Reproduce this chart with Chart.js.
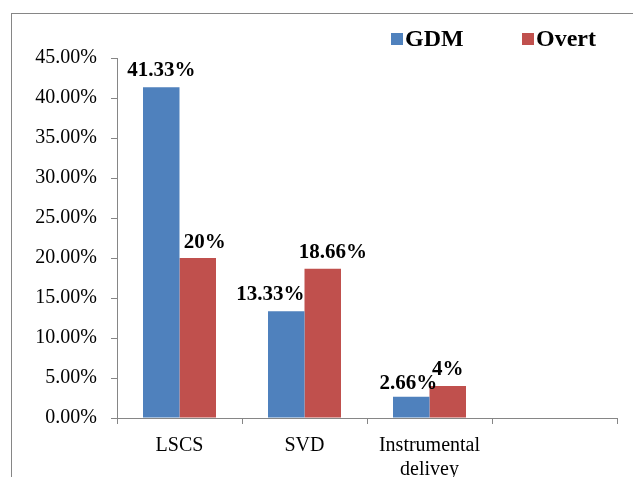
<!DOCTYPE html>
<html>
<head>
<meta charset="utf-8">
<script src="https://cdn.jsdelivr.net/npm/chart.js@4/dist/chart.umd.min.js"></script>
<style>
  html, body { margin: 0; padding: 0; background: #ffffff; }
  #wrap { width: 633px; height: 477px; position: relative; }
</style>
</head>
<body>
<div id="wrap"><canvas id="chart" width="633" height="477"></canvas></div>
<script>
// Mode of delivery by group (percent of cases)
const categories = ['LSCS', 'SVD', ['Instrumental', 'delivey'], ''];
const seriesNames = ['GDM', 'Overt'];
const gdmValues = [41.33, 13.33, 2.66, null];
const overtValues = [20, 18.66, 4, null];
const yTickValues = [0, 5, 10, 15, 20, 25, 30, 35, 40, 45];

const BLUE = '#4F81BD';
const RED = '#C0504D';
const AXIS = '#868686';
const SERIF = '"Liberation Serif", "Times New Roman", serif';

// Frame, value labels and legend
const decorations = {
  id: 'decorations',
  beforeDraw(chart) {
    const ctx = chart.ctx;
    ctx.save();
    ctx.fillStyle = '#ffffff';
    ctx.fillRect(0, 0, chart.width, chart.height);
    ctx.strokeStyle = AXIS;
    ctx.lineWidth = 1;
    ctx.strokeRect(11.5, 13.5, chart.width + 20, chart.height + 20);
    ctx.restore();
  },
  afterDatasetsDraw(chart, args, opts) {
    const ctx = chart.ctx;
    ctx.save();
    ctx.font = 'bold 21px ' + SERIF;
    ctx.fillStyle = '#000000';
    ctx.textAlign = 'center';
    ctx.textBaseline = 'alphabetic';
    chart.data.datasets.forEach((ds, di) => {
      const meta = chart.getDatasetMeta(di);
      meta.data.forEach((bar, i) => {
        const v = ds.data[i];
        if (v === null || v === undefined) return;
        const nudge = (opts.nudges[di] && opts.nudges[di][i]) || [0, 0];
        ctx.fillText(v + '%', bar.x + nudge[0], bar.y - opts.gap + nudge[1]);
      });
    });
    ctx.restore();
  },
  afterDraw(chart, args, opts) {
    const ctx = chart.ctx;
    ctx.save();
    ctx.font = 'bold 24px ' + SERIF;
    ctx.textBaseline = 'alphabetic';
    ctx.textAlign = 'left';
    chart.data.datasets.forEach((ds, di) => {
      const x = opts.legendX[di];
      ctx.fillStyle = ds.backgroundColor;
      ctx.fillRect(x, opts.legendY, 12, 12);
      ctx.fillStyle = '#000000';
      ctx.fillText(ds.label, x + 14, opts.legendY + 13);
    });
    ctx.restore();
  }
};

new Chart(document.getElementById('chart'), {
  type: 'bar',
  data: {
    labels: categories,
    datasets: [
      { label: seriesNames[0], data: gdmValues, backgroundColor: BLUE },
      { label: seriesNames[1], data: overtValues, backgroundColor: RED }
    ]
  },
  plugins: [decorations],
  options: {
    responsive: false,
    animation: false,
    devicePixelRatio: 1,
    categoryPercentage: 0.584,
    barPercentage: 1.0,
    layout: { padding: { top: 58, right: 16, bottom: 0, left: 0 } },
    plugins: {
      legend: { display: false },
      tooltip: { enabled: false },
      decorations: {
        gap: 11,
        nudges: [
          [[0, 0], [-16, 0], [-3, 3]],
          [[7, 1], [10, 0], [0, 0]]
        ],
        legendX: [391, 522],
        legendY: 33
      }
    },
    scales: {
      x: {
        grid: {
          offset: true,
          drawOnChartArea: false,
          drawTicks: true,
          tickLength: 6,
          color: AXIS
        },
        border: { color: AXIS, width: 1 },
        ticks: {
          color: '#000000',
          font: { family: SERIF, size: 20, lineHeight: 1.2 },
          padding: 10,
          maxRotation: 0,
          autoSkip: false
        },
        afterFit(scale) { scale.height = 59; }
      },
      y: {
        min: 0,
        max: 45,
        afterBuildTicks(scale) { scale.ticks = yTickValues.map(v => ({ value: v })); },
        grid: {
          drawOnChartArea: false,
          drawTicks: true,
          tickLength: 6,
          color: AXIS
        },
        border: { color: AXIS, width: 1 },
        ticks: {
          color: '#000000',
          font: { family: SERIF, size: 20 },
          padding: 14,
          callback: v => Number(v).toFixed(2) + '%'
        },
        afterFit(scale) { scale.width = 117; }
      }
    }
  }
});
</script>
</body>
</html>
